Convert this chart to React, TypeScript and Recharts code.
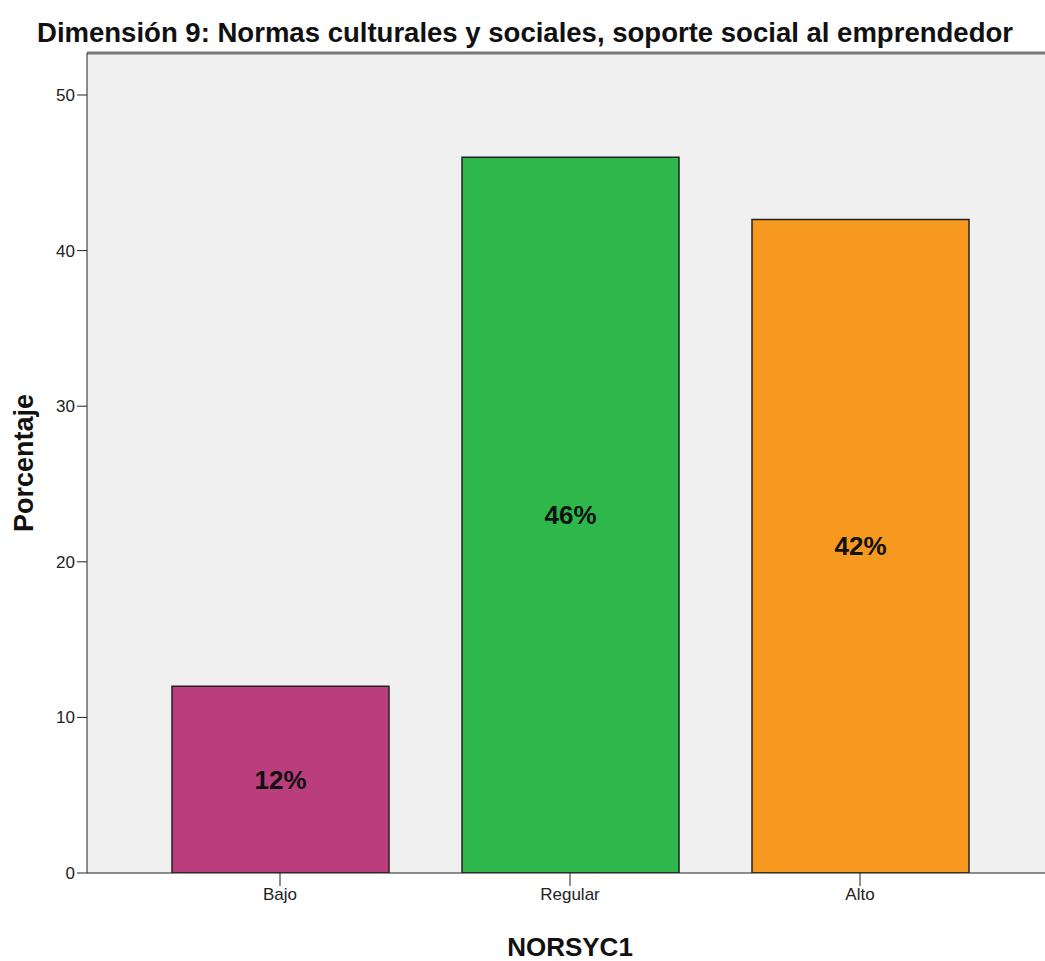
import { BarChart, Bar, XAxis, YAxis, CartesianGrid, Cell, LabelList, ReferenceLine } from 'recharts';

const categories = ['Bajo', 'Regular', 'Alto'];
const percentages = [12, 46, 42];
const barColors = ['#BA3E7B', '#2EB84B', '#F7991F'];
const yTicks = [0, 10, 20, 30, 40, 50];

const data = categories.map((name, i) => ({ name, value: percentages[i] }));

const font = '"Liberation Sans", Arial, sans-serif';

export default function App() {
  return (
    <div
      style={{
        position: 'absolute',
        left: 0,
        top: 0,
        width: 1045,
        height: 961,
        overflow: 'hidden',
        background: '#fff',
        fontFamily: font,
      }}
    >
      <svg width={1045} height={52} style={{ position: 'absolute', left: 0, top: 0 }}>
        <text
          x={525}
          y={42}
          textAnchor="middle"
          textLength={976}
          lengthAdjust="spacingAndGlyphs"
          fontFamily={font}
          fontSize={28}
          fontWeight="bold"
          fill="#111"
        >
          Dimensión 9: Normas culturales y sociales, soporte social al emprendedor
        </text>
      </svg>

      <div
        style={{
          position: 'absolute',
          left: 24,
          top: 463,
          transform: 'translate(-50%, -50%) rotate(-90deg)',
          fontSize: 27,
          fontWeight: 'bold',
          whiteSpace: 'nowrap',
          color: '#111',
        }}
      >
        Porcentaje
      </div>

      <div
        style={{
          position: 'absolute',
          left: 570,
          top: 947,
          transform: 'translate(-50%, -50%)',
          fontSize: 26,
          fontWeight: 'bold',
          whiteSpace: 'nowrap',
          color: '#111',
        }}
      >
        NORSYC1
      </div>

      <div style={{ position: 'absolute', left: 0, top: 0 }}>
        <BarChart
          width={1061}
          height={961}
          data={data}
          margin={{ top: 53, right: 8, bottom: 0, left: 0 }}
        >
          <CartesianGrid fill="#F0F0F0" horizontal={false} vertical={false} />
          <XAxis
            dataKey="name"
            height={88}
            padding={{ left: 48, right: 48 }}
            stroke="#222"
            tickSize={13}
            tick={{ fill: '#222', fontSize: 17, fontFamily: font }}
            tickMargin={2}
          />
          <YAxis
            width={87}
            domain={[0, 52.7]}
            ticks={yTicks}
            allowDataOverflow
            stroke="#222"
            tickSize={10}
            tick={{ fill: '#222', fontSize: 17, fontFamily: font }}
            tickMargin={2}
          />
          <ReferenceLine y={52.7} stroke="#777" strokeWidth={3} />
          <Bar dataKey="value" barSize={217} stroke="#222" strokeWidth={1.5} isAnimationActive={false}>
            {data.map((d, i) => (
              <Cell key={d.name} fill={barColors[i]} />
            ))}
            <LabelList
              dataKey="value"
              position="center"
              formatter={(v: any) => `${v}%`}
              style={{ fill: '#111', fontSize: 26, fontWeight: 'bold', fontFamily: font }}
            />
          </Bar>
        </BarChart>
      </div>
    </div>
  );
}
